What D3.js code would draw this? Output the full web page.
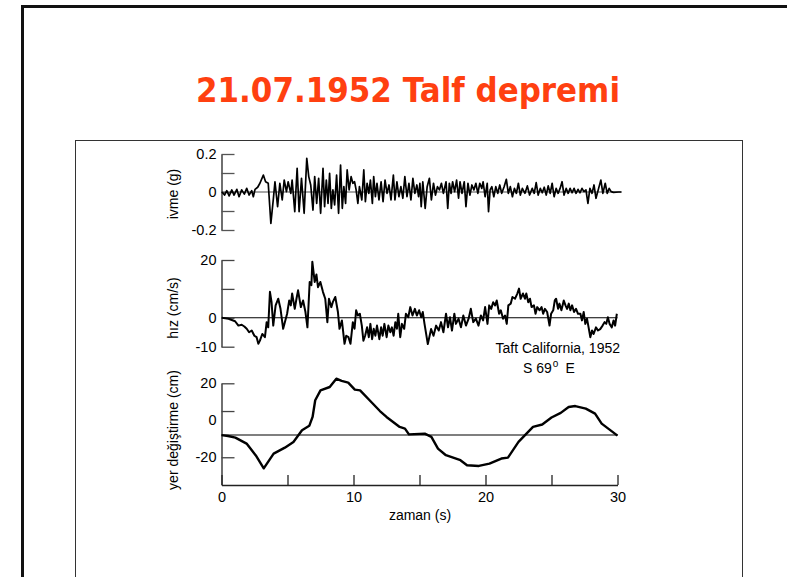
<!DOCTYPE html>
<html>
<head>
<meta charset="utf-8">
<script src="https://cdn.jsdelivr.net/npm/d3@7"></script>
<style>
  html, body { margin: 0; padding: 0; background: #fff; }
  svg { display: block; }
</style>
</head>
<body>
<svg id="chart" width="787" height="577"></svg>
<script>
// ---------------- DATA ----------------
const titleText = "21.07.1952 Talf depremi";
const xTicks = [0, 5, 10, 15, 20, 25, 30];
const xTickLabels = [0, 10, 20, 30];
const xLabel = "zaman (s)";

const accelLabel = "ivme (g)";
const accelTicks = [0.2, 0.1, 0, -0.1, -0.2];
const accelTickLabels = [0.2, 0, -0.2];
// [time s, acceleration g]
const accelData = [
  [0.03,0.000],[0.23,-0.016],[0.40,0.007],[0.58,-0.021],[0.78,0.011],[0.95,-0.016],[1.16,0.014],[1.33,-0.025],
  [1.53,0.011],[1.73,-0.011],[1.91,0.019],[2.09,-0.016],[2.29,0.007],[2.41,-0.025],[2.54,0.014],[2.74,0.025],
  [2.91,0.046],[3.17,0.089],[3.34,0.054],[3.54,0.046],[3.74,-0.165],[3.92,-0.042],[4.05,0.054],[4.25,-0.077],
  [4.42,0.046],[4.60,-0.042],[4.75,0.063],[4.92,0.002],[5.05,0.054],[5.25,-0.007],[5.35,0.063],[5.55,-0.104],
  [5.73,0.125],[5.88,-0.104],[6.06,0.072],[6.26,-0.112],[6.46,0.177],[6.61,0.081],[6.76,0.037],[6.93,-0.095],
  [7.06,0.081],[7.21,-0.060],[7.36,0.072],[7.51,-0.112],[7.69,0.125],[7.81,-0.077],[7.94,0.063],[8.07,-0.060],
  [8.19,0.098],[8.32,-0.086],[8.44,0.011],[8.57,-0.068],[8.72,0.089],[8.87,-0.112],[9.02,0.142],[9.15,-0.086],
  [9.27,0.028],[9.40,-0.060],[9.52,0.116],[9.67,0.011],[9.82,0.081],[9.95,0.046],[10.08,0.054],[10.20,0.011],
  [10.33,-0.060],[10.45,0.028],[10.63,-0.042],[10.78,0.116],[10.90,-0.051],[11.03,0.046],[11.16,-0.007],[11.28,0.063],
  [11.43,-0.060],[11.53,0.081],[11.66,-0.025],[11.78,0.046],[11.93,-0.042],[12.09,0.054],[12.24,-0.051],[12.39,0.063],
  [12.54,-0.007],[12.69,0.037],[12.84,-0.042],[13.02,0.089],[13.14,-0.042],[13.29,0.054],[13.44,-0.025],[13.59,0.028],
  [13.74,-0.033],[13.89,0.081],[14.05,-0.025],[14.20,0.046],[14.35,-0.042],[14.50,0.072],[14.65,-0.007],[14.80,0.037],
  [14.93,-0.025],[15.03,0.046],[15.13,-0.077],[15.25,0.054],[15.43,-0.086],[15.58,0.028],[15.75,0.072],[15.90,-0.042],
  [16.06,0.046],[16.21,-0.016],[16.36,0.028],[16.51,0.011],[16.66,0.046],[16.81,-0.007],[17.01,0.054],[17.14,-0.086],
  [17.26,0.046],[17.39,-0.007],[17.51,0.054],[17.66,0.002],[17.81,0.063],[17.96,-0.033],[18.07,0.054],[18.22,-0.007],
  [18.39,0.054],[18.52,-0.077],[18.67,0.046],[18.82,-0.016],[18.97,0.037],[19.12,0.011],[19.27,0.046],[19.42,-0.007],
  [19.57,0.046],[19.72,0.019],[19.82,0.054],[19.97,-0.025],[20.13,0.046],[20.23,-0.104],[20.35,0.011],[20.48,0.028],
  [20.63,-0.025],[20.78,0.028],[20.93,-0.007],[21.08,0.037],[21.23,-0.007],[21.41,0.028],[21.58,0.067],[21.73,-0.007],
  [21.88,0.028],[22.04,-0.025],[22.19,0.019],[22.34,-0.007],[22.49,0.046],[22.64,-0.016],[22.79,0.019],[22.99,-0.007],
  [23.17,0.032],[23.34,-0.016],[23.54,0.019],[23.69,-0.007],[23.84,0.049],[23.99,-0.016],[24.15,0.019],[24.30,-0.004],
  [24.45,0.025],[24.60,-0.016],[24.75,0.032],[24.90,-0.007],[25.05,0.046],[25.20,-0.025],[25.35,0.019],[25.50,-0.007],
  [25.65,0.019],[25.80,0.054],[25.95,-0.016],[26.11,0.019],[26.26,-0.007],[26.41,0.019],[26.56,-0.004],[26.71,0.019],
  [26.86,-0.007],[27.01,0.014],[27.16,-0.004],[27.31,0.019],[27.46,0.002],[27.61,0.011],[27.76,-0.060],[27.91,0.019],
  [28.07,-0.007],[28.22,0.037],[28.37,-0.033],[28.57,0.019],[28.74,0.063],[28.89,-0.007],[29.07,0.046],[29.22,-0.007],
  [29.37,0.019],[29.52,0.002],[29.70,-0.002],[30.08,0.000],[30.30,0.000]
];

const velLabel = "hız (cm/s)";
const velTicks = [20, 10, 0, -10];
const velTickLabels = [20, 0, -10];
// [time s, velocity cm/s]
const velData = [
  [0.03,0],[0.53,-0.35],[1.03,-1.2],[1.28,-2.7],[1.53,-2.4],[1.73,-3.0],[1.91,-3.8],[2.09,-5.0],[2.29,-4.4],
  [2.49,-6.2],[2.66,-6.7],[2.79,-9.0],[2.91,-7.9],[3.09,-5.6],[3.29,-6.7],[3.42,-1.5],[3.54,-3.3],[3.67,9.0],
  [3.79,5.5],[3.92,-2.7],[4.10,4.3],[4.30,6.6],[4.47,3.1],[4.67,-3.8],[4.80,-1.5],[4.97,1.4],[5.13,6.0],
  [5.25,4.3],[5.35,8.4],[5.55,3.1],[5.68,6.6],[5.80,9.5],[6.01,3.7],[6.18,6.0],[6.36,2.0],[6.51,-3.3],
  [6.68,12.4],[6.81,11.3],[6.88,19.4],[7.06,12.4],[7.19,15.0],[7.31,10.6],[7.49,12.4],[7.69,8.9],[7.86,6.6],
  [8.02,-1.5],[8.14,6.6],[8.32,3.7],[8.44,5.5],[8.62,7.2],[8.82,2.0],[8.94,-3.8],[9.12,-0.9],[9.32,-9.0],
  [9.45,-6.2],[9.62,-6.7],[9.77,-9.0],[9.95,-1.5],[10.08,-3.8],[10.20,2.6],[10.33,0.8],[10.48,1.4],[10.63,-2.7],
  [10.75,-7.9],[10.88,-6.2],[11.03,-3.3],[11.16,-6.7],[11.28,-2.1],[11.41,-7.4],[11.53,-3.8],[11.66,-6.2],[11.78,-2.7],
  [11.96,-7.4],[12.09,-3.3],[12.21,-6.2],[12.34,-2.1],[12.51,-6.7],[12.64,-2.7],[12.79,-5.0],[12.91,-3.3],[13.04,-6.2],
  [13.17,-1.5],[13.29,-3.8],[13.39,1.4],[13.54,-6.7],[13.67,-2.1],[13.84,-3.8],[13.97,1.4],[14.15,0.2],[14.30,3.7],
  [14.47,0.8],[14.65,3.1],[14.80,0.8],[14.97,2.6],[15.13,0.2],[15.25,2.0],[15.38,-2.1],[15.63,-9.1],[15.88,-3.9],
  [16.06,-6.2],[16.26,-2.7],[16.46,-4.4],[16.63,-1.5],[16.81,-5.0],[17.01,1.4],[17.16,-3.3],[17.31,0.2],[17.46,-4.4],
  [17.64,1.4],[17.76,-2.1],[17.96,-0.3],[18.14,-3.3],[18.32,0.8],[18.52,-2.7],[18.72,-0.3],[18.89,3.1],[19.07,-1.5],
  [19.27,-0.3],[19.47,-2.7],[19.65,0.8],[19.82,-0.9],[19.97,3.7],[20.15,-2.1],[20.28,4.3],[20.43,3.1],[20.58,5.4],
  [20.73,4.3],[20.85,6.0],[21.03,1.4],[21.16,2.6],[21.33,-0.3],[21.48,0.8],[21.61,-2.1],[21.73,4.3],[21.91,4.9],
  [22.04,7.2],[22.24,6.6],[22.41,8.4],[22.54,10.1],[22.66,6.6],[22.84,8.4],[22.99,6.6],[23.09,8.4],[23.24,5.4],
  [23.37,6.6],[23.49,3.7],[23.67,4.3],[23.79,1.4],[23.92,3.7],[24.10,2.6],[24.25,3.7],[24.37,1.4],[24.50,3.1],
  [24.67,2.0],[24.85,-2.7],[24.97,1.4],[25.13,2.6],[25.25,6.0],[25.35,6.6],[25.50,3.1],[25.60,4.9],[25.75,2.6],
  [25.93,6.0],[26.06,4.3],[26.18,3.1],[26.31,4.9],[26.43,2.6],[26.56,4.3],[26.71,2.0],[26.86,3.1],[27.01,1.4],
  [27.19,1.4],[27.31,-0.9],[27.44,2.0],[27.56,-2.1],[27.69,-0.3],[27.81,-3.3],[27.94,-6.7],[28.07,-4.4],[28.19,-5.6],
  [28.37,-3.3],[28.52,-4.4],[28.69,-3.9],[28.87,-2.7],[29.02,-1.5],[29.15,-2.1],[29.27,0.2],[29.40,-2.1],[29.57,-3.3],
  [29.70,-0.9],[29.82,-2.7],[29.95,1.4]
];

const dispLabel = "yer değiştirme (cm)";
const dispTickMarks = [20, 5, -20];
const dispTickLabels = [20, 0, -20];
const dispRefLevel = -8;
// [time s, displacement cm]
const dispData = [
  [0,-8],[0.5,-8.5],[1.05,-9.4],[1.9,-12.6],[2.6,-19],[3.2,-26],[3.95,-18],[4.8,-14.8],[5.45,-11.7],
  [6.1,-5.4],[6.65,-3],[6.9,1.8],[7.1,10.8],[7.5,16.2],[8.2,18],[8.7,22.5],[9.1,21.3],[9.6,20.4],
  [10.1,16.6],[10.5,16.2],[11.4,9.5],[12.0,5],[12.5,1.8],[13.5,-3.6],[13.9,-4.5],[14.2,-7.6],[15.4,-7.2],
  [15.9,-9],[16.4,-15.3],[17,-18.9],[18.1,-21.6],[18.6,-24.3],[19.5,-24.7],[20.3,-23.4],[21.2,-20.7],
  [21.7,-20.2],[22.5,-11.7],[23.6,-3.6],[24.3,-2.3],[25,1.5],[25.7,4],[26.3,7.2],[26.8,7.7],[27.6,6.3],
  [28.3,3.6],[28.8,-1.8],[29.3,-4.5],[30,-8.3]
];

const noteLine1 = "Taft California, 1952";
const noteLine2a = "S 69";
const noteLine2sup = "o";
const noteLine2b = "E";

// ---------------- DRAW ----------------
const svg = d3.select("#chart");
const FONT = "'Liberation Sans', Arial, Helvetica, sans-serif";

// slide frame and inner box
svg.append("rect").attr("x", 22.5).attr("y", 6.5).attr("width", 820).attr("height", 620)
  .attr("fill", "none").attr("stroke", "#111").attr("stroke-width", 3);
svg.append("rect").attr("x", 75.5).attr("y", 140.5).attr("width", 667).attr("height", 470)
  .attr("fill", "none").attr("stroke", "#333").attr("stroke-width", 1);

// title
svg.append("text").attr("x", 408).attr("y", 102).attr("text-anchor", "middle")
  .attr("font-family", "'DejaVu Sans', 'Comic Sans MS', sans-serif").attr("font-weight", "bold")
  .attr("font-size", 34).attr("fill", "#ff4010")
  .attr("textLength", 424).attr("lengthAdjust", "spacingAndGlyphs")
  .text(titleText);

const x = d3.scaleLinear().domain([0, 30]).range([221.5, 617.5]);
const yA = d3.scaleLinear().domain([-0.2, 0.2]).range([230, 154]);
const yV = d3.scaleLinear().domain([-10, 20]).range([346.7, 260]);
const yD = d3.scaleLinear().domain([-35, 20]).range([485, 383.3]);

function styleAxis(g, color) {
  g.selectAll("path.domain").attr("stroke", "#222").attr("stroke-width", 1.3);
  g.selectAll(".tick line").attr("stroke", color || "#333").attr("stroke-width", 1.3);
  g.selectAll(".tick text").attr("font-family", FONT).attr("font-size", 14.5).attr("fill", "#000");
}
const fmt = v => (v < 0 ? "-" : "") + Math.abs(v);

// --- acceleration panel
svg.append("line").attr("x1", x(0)).attr("x2", x(30.3)).attr("y1", yA(0)).attr("y2", yA(0))
  .attr("stroke", "#888").attr("stroke-width", 1.5);
const gA = svg.append("g").attr("transform", `translate(${x(0)},0)`)
  .call(d3.axisLeft(yA).tickValues(accelTicks).tickSizeInner(-13).tickSizeOuter(0).tickPadding(5)
    .tickFormat(d => accelTickLabels.includes(d) ? fmt(d) : ""));
styleAxis(gA, "#555");

const line = (ys) => d3.line().x(d => x(d[0])).y(d => ys(d[1]));
svg.append("path").datum(accelData).attr("d", line(yA))
  .attr("fill", "none").attr("stroke", "#000").attr("stroke-width", 1.7).attr("stroke-linejoin", "round");

// --- velocity panel
svg.append("line").attr("x1", x(0)).attr("x2", x(30)).attr("y1", yV(0)).attr("y2", yV(0))
  .attr("stroke", "#000").attr("stroke-width", 1.1);
const gV = svg.append("g").attr("transform", `translate(${x(0)},0)`)
  .call(d3.axisLeft(yV).tickValues(velTicks).tickSizeInner(-13).tickSizeOuter(0).tickPadding(5)
    .tickFormat(d => velTickLabels.includes(d) ? fmt(d) : ""));
styleAxis(gV, "#444");
svg.append("path").datum(velData).attr("d", line(yV))
  .attr("fill", "none").attr("stroke", "#000").attr("stroke-width", 2).attr("stroke-linejoin", "round");

// --- displacement panel
svg.append("line").attr("x1", x(0)).attr("x2", x(30)).attr("y1", yD(dispRefLevel)).attr("y2", yD(dispRefLevel))
  .attr("stroke", "#000").attr("stroke-width", 1.1);
const gD = svg.append("g").attr("transform", `translate(${x(0)},0)`)
  .call(d3.axisLeft(yD).tickValues(dispTickMarks).tickSizeInner(-13).tickSizeOuter(0).tickFormat(""));
styleAxis(gD, "#444");
const gDL = svg.append("g").attr("transform", `translate(${x(0)},0)`)
  .call(d3.axisLeft(yD).tickValues(dispTickLabels).tickSize(0).tickPadding(5).tickFormat(fmt));
gDL.select("path.domain").remove();
styleAxis(gDL);
svg.append("path").datum(dispData).attr("d", line(yD))
  .attr("fill", "none").attr("stroke", "#000").attr("stroke-width", 2.4).attr("stroke-linejoin", "round");

// --- x axis
const gX = svg.append("g").attr("transform", `translate(0,${yD(-35)})`)
  .call(d3.axisBottom(x).tickValues(xTicks).tickSizeInner(-10).tickSizeOuter(0).tickPadding(7)
    .tickFormat(d => xTickLabels.includes(d) ? String(d) : ""));
styleAxis(gX, "#222");

svg.append("text").attr("x", 420).attr("y", 520).attr("text-anchor", "middle")
  .attr("font-family", FONT).attr("font-size", 14).text(xLabel);

// y labels
[[accelLabel, 194], [velLabel, 308], [dispLabel, 430]].forEach(([t, cy]) => {
  svg.append("text").attr("transform", `translate(173,${cy}) rotate(-90)`)
    .attr("text-anchor", "middle").attr("dominant-baseline", "central")
    .attr("font-family", FONT).attr("font-size", 14).text(t);
});

// annotation
svg.append("text").attr("x", 620).attr("y", 353).attr("text-anchor", "end")
  .attr("font-family", FONT).attr("font-size", 14).text(noteLine1);
const n2 = svg.append("text").attr("x", 523).attr("y", 373)
  .attr("font-family", FONT).attr("font-size", 14);
n2.append("tspan").text(noteLine2a);
n2.append("tspan").attr("dy", -6).attr("dx", 1).attr("font-size", 10).text(noteLine2sup);
n2.append("tspan").attr("dy", 6).attr("dx", 7).text(noteLine2b);
</script>
</body>
</html>
